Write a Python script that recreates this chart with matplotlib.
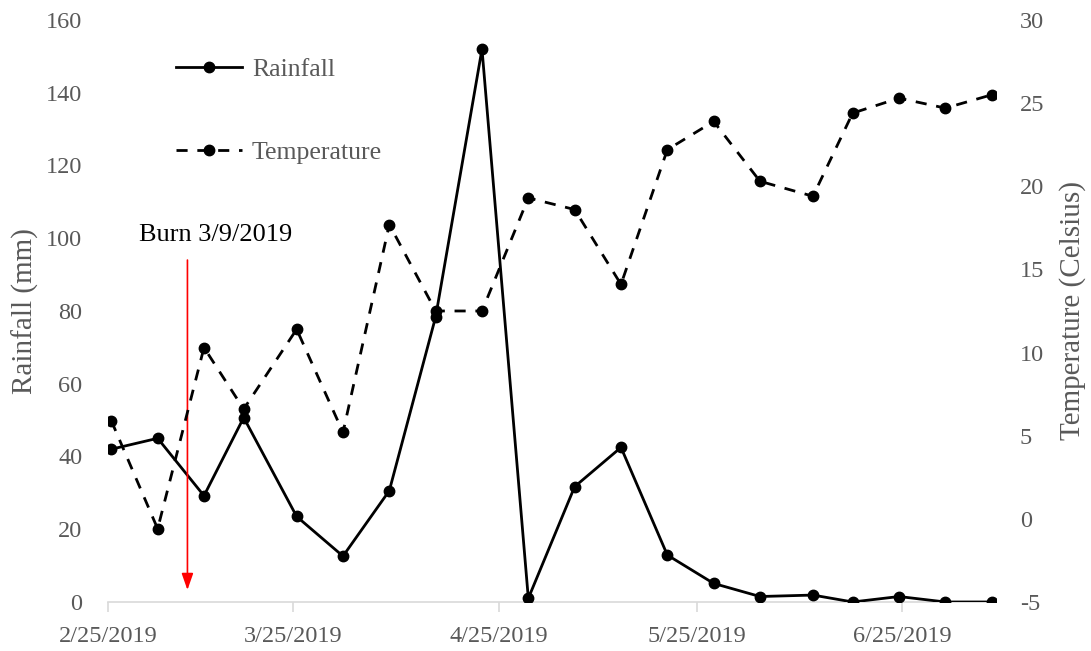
import numpy as np
import pandas as pd
import matplotlib as mpl
import matplotlib.pyplot as plt

mpl.rcParams['font.family'] = ['Liberation Serif', 'DejaVu Serif']
mpl.rcParams['axes.unicode_minus'] = False

# sampling dates (weekly)
dates = ['2019-02-25', '2019-03-04', '2019-03-11', '2019-03-17', '2019-03-25',
         '2019-04-01', '2019-04-08', '2019-04-15', '2019-04-22', '2019-04-29',
         '2019-05-06', '2019-05-13', '2019-05-20', '2019-05-27', '2019-06-03',
         '2019-06-11', '2019-06-17', '2019-06-24', '2019-07-01', '2019-07-08']
# rainfall, mm
rainfall = [42, 45, 29.2, 50.7, 23.5, 12.6, 30.6, 78.4, 152, 1.0,
            31.7, 42.5, 12.9, 5.1, 1.5, 1.9, 0, 1.5, 0, 0]
# mean temperature, Celsius
temperature = [5.9, -0.6, 10.3, 6.6, 11.4, 5.2, 17.7, 12.5, 12.5, 19.3,
               18.6, 14.1, 22.2, 23.9, 20.3, 19.4, 24.4, 25.3, 24.7, 25.5]
tick_dates = ['2019-02-25', '2019-03-25', '2019-04-25', '2019-05-25', '2019-06-25']
tick_labels = ['2/25/2019', '3/25/2019', '4/25/2019', '5/25/2019', '6/25/2019']
burn_date = '2019-03-09'

gray = '#595959'
x = pd.to_datetime(dates) + pd.Timedelta(hours=12)

fig = plt.figure(figsize=(10.91, 6.51), dpi=100)
ax = fig.add_axes([0.099, 0.0753, 0.814, 0.894])
ax2 = ax.twinx()

l1, = ax.plot(x, rainfall, color='black', lw=2, marker='o', ms=7.5,
              label='Rainfall', zorder=3)
l2, = ax2.plot(x, temperature, color='black', lw=2, ls=(0, (4, 3.5)),
               marker='o', ms=7.5, label='Temperature')

ax.set_ylim(0, 160)
ax.set_yticks(np.arange(0, 161, 20))
ax2.set_ylim(-5, 30)
ax2.set_yticks(np.arange(-5, 31, 5))
ax.set_xlim(pd.Timestamp('2019-02-25'), pd.Timestamp('2019-07-09 04:00'))
ax.set_xticks(pd.to_datetime(tick_dates))
ax.set_xticklabels(tick_labels)

for a in (ax, ax2):
    for s in ['top', 'left', 'right', 'bottom']:
        a.spines[s].set_visible(False)
    a.tick_params(axis='y', length=0, labelsize=17.5, labelcolor=gray)
ax.spines['bottom'].set_visible(True)
ax.spines['bottom'].set_color('#d9d9d9')
ax.spines['bottom'].set_linewidth(1.2)
ax.tick_params(axis='x', length=7, color='#d9d9d9', width=1.2,
               labelsize=17.5, labelcolor=gray, pad=10)
ax.tick_params(axis='y', pad=18.5)
ax2.tick_params(axis='y', pad=17)

ax.set_ylabel('Rainfall (mm)', fontsize=21, color=gray, labelpad=5)
ax2.set_ylabel('Temperature (Celsius)', fontsize=21, color=gray, labelpad=11)

# burn event
bx = pd.Timestamp(burn_date)
ax.annotate('', xy=(bx, 3.3), xytext=(bx, 94),
            arrowprops=dict(arrowstyle='-|>,head_width=0.35,head_length=1.0',
                            color='red', lw=1.2, shrinkA=0, shrinkB=0))
ax.text(pd.Timestamp('2019-03-13 06:00'), 101, 'Burn 3/9/2019', fontsize=19,
        color='black', ha='center', va='center')

leg = ax.legend(handles=[l1, l2], loc='upper left',
                bbox_to_anchor=(176 / 1091, 1 - 58 / 651),
                bbox_transform=fig.transFigure, frameon=False, fontsize=18.5,
                borderpad=0, borderaxespad=0,
                labelspacing=2.35, handlelength=2.55, handletextpad=0.4)
for t in leg.get_texts():
    t.set_color(gray)

fig.savefig('out.png', dpi=100)
